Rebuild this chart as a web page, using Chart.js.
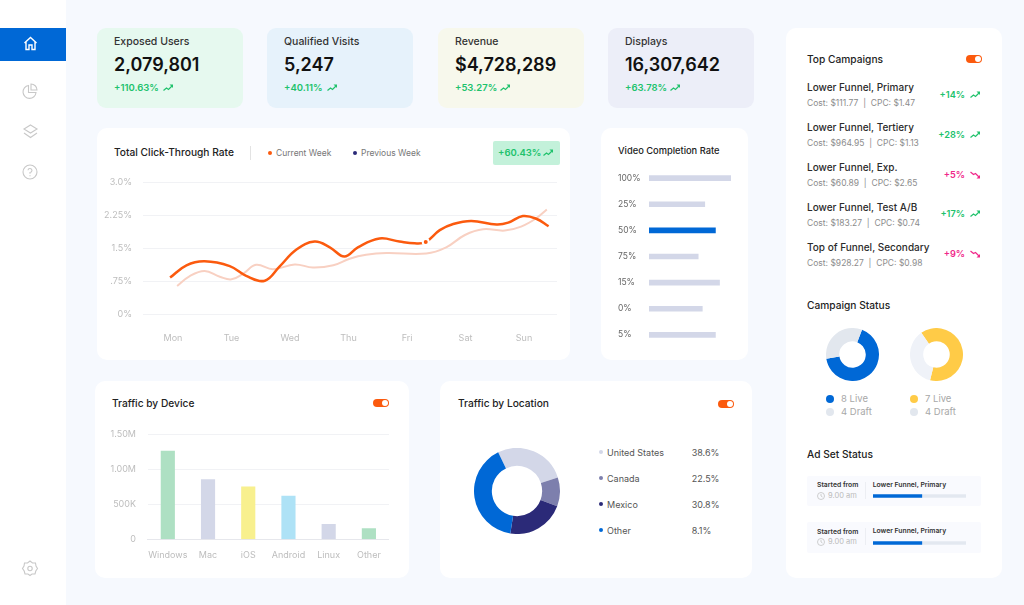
<!DOCTYPE html>
<html>
<head>
<meta charset="utf-8">
<title>Dashboard</title>
<script src="https://cdn.jsdelivr.net/npm/chart.js@4"></script>
<style>
html, body { margin: 0; padding: 0; background: #f6f9fe; overflow: hidden; }
#page { position: relative; width: 1024px; height: 605px; font-family: Inter, sans-serif; color: #222; }
.box { position: absolute; background: #fff; border-radius: 10px; }
.t { position: absolute; white-space: pre; transform: translateY(-50%); line-height: 1; }
.t.right { transform: translate(-100%, -50%); }
.kpi-title { font-size: 10.5px; font-weight: 500; color: #333; }
.kpi-value { font-size: 18px; font-weight: 600; color: #111; }
.kpi-change { font-size: 9.5px; font-weight: 600; color: #20c26c; }
.title { font-size: 10.2px; font-weight: 500; color: #222; }
.title-small { font-size: 9.3px; font-weight: 500; color: #222; }
.legend { font-size: 8.5px; color: #777; }
.name { font-size: 10px; font-weight: 500; color: #2b2b2b; }
.sub { font-size: 8.5px; color: #8c8c8c; }
.up { font-size: 9.2px; font-weight: 600; color: #20c26c; }
.down { font-size: 9.2px; font-weight: 600; color: #f0288a; }
.status { font-size: 9.5px; color: #a8a8a8; }
.loc { font-size: 9px; color: #555; }
.tiny { font-size: 6.8px; font-weight: 600; color: #333; }
.tiny-sub { font-size: 7.5px; color: #bbb; }
canvas { position: absolute; }
svg { position: absolute; overflow: visible; }
</style>
</head>
<body>
<div id="page"></div>
<script>
// Linjediagram: dag (0 = Mon) och värde i procent
const dayLabels = ['Mon', 'Tue', 'Wed', 'Thu', 'Fri', 'Sat', 'Sun'];
const rateTickLabels = ['0%', '.75%', '1.5%', '2.25%', '3.0%'];
const currentDays = [-0.05, 0.23, 0.54, 0.97, 1.25, 1.57, 1.82, 2.11, 2.42, 2.68, 2.93, 3.16, 3.53, 3.87, 4.13, 4.32, 4.56, 4.79, 5.10, 5.53, 5.73, 5.98, 6.21, 6.42];
const currentRates = [0.84, 1.12, 1.21, 1.10, 0.88, 0.77, 1.09, 1.48, 1.66, 1.53, 1.32, 1.53, 1.73, 1.66, 1.62, 1.65, 1.92, 2.06, 2.13, 2.05, 2.09, 2.24, 2.18, 2.01];
const previousDays = [0.07, 0.28, 0.54, 0.80, 1.00, 1.20, 1.42, 1.71, 2.08, 2.39, 2.74, 3.02, 3.30, 3.65, 4.33, 4.67, 4.99, 5.30, 5.67, 5.95, 6.21, 6.39];
const previousRates = [0.65, 0.87, 0.99, 0.86, 0.80, 0.93, 1.13, 1.03, 1.14, 1.07, 1.12, 1.27, 1.36, 1.40, 1.39, 1.53, 1.81, 1.94, 1.91, 2.00, 2.19, 2.39];
const markerDay = [4.32];
const markerRate = [1.65];

// Video Completion Rate
const videoLabels = ['100%', '25%', '50%', '75%', '15%', '0%', '5%'];
const videoValues = [100, 68, 81, 60, 86, 65, 81];

// Traffic by Device
const deviceLabels = ['Windows', 'Mac', 'iOS', 'Android', 'Linux', 'Other'];
const deviceValues = [1262000, 852000, 748000, 619000, 214000, 152000];
const deviceTickLabels = ['0', '500K', '1.00M', '1.50M'];

// Traffic by Location
const locationLabels = ['United States', 'Canada', 'Mexico', 'Other'];
const locationShares = ['38.6%', '22.5%', '30.8%', '8.1%'];
const locationSlices = [27.1, 10.9, 21.7, 40.3];

// Campaign Status
const statusOne = [8, 4];
const statusTwo = [7, 4];

// Ad Set Status
const adSetProgress = [52.5, 52.5];

// KPI-kort
const kpiTitles = ['Exposed Users', 'Qualified Visits', 'Revenue', 'Displays'];
const kpiValues = ['2,079,801', '5,247', '$4,728,289', '16,307,642'];
const kpiChanges = ['+110.63%', '+40.11%', '+53.27%', '+63.78%'];

// Top Campaigns
const campaignNames = ['Lower Funnel, Primary', 'Lower Funnel, Tertiery', 'Lower Funnel, Exp.', 'Lower Funnel, Test A/B', 'Top of Funnel, Secondary'];
const campaignCosts = ['$111.77', '$964.95', '$60.89', '$183.27', '$928.27'];
const campaignCpcs = ['$1.47', '$1.13', '$2.65', '$0.74', '$0.98'];
const campaignChanges = ['+14%', '+28%', '+5%', '+17%', '+9%'];
const campaignRising = [true, true, false, true, false];

const page = document.getElementById('page');
Chart.defaults.font.family = 'Inter, sans-serif';
Chart.defaults.animation = false;
Chart.defaults.responsive = false;
Chart.defaults.plugins.legend.display = false;
Chart.defaults.plugins.tooltip.enabled = false;

/** Lägger till en ruta på sidan. */
function addBox(x, y, w, h, color, radius) {
    const el = document.createElement('div');
    el.className = 'box';
    el.style.cssText = `left:${x}px;top:${y}px;width:${w}px;height:${h}px;background:${color};border-radius:${radius}px`;
    page.appendChild(el);
}

/** Lägger till text, y är textens mittlinje. */
function addText(x, y, text, cls) {
    const el = document.createElement('div');
    el.className = 't ' + cls;
    el.style.left = x + 'px';
    el.style.top = y + 'px';
    el.textContent = text;
    page.appendChild(el);
}

/** Lägger till en canvas och returnerar den. */
function addCanvas(x, y, w, h) {
    const el = document.createElement('canvas');
    el.width = w;
    el.height = h;
    el.style.cssText = `left:${x}px;top:${y}px;width:${w}px;height:${h}px`;
    page.appendChild(el);
    return el;
}

/** Lägger till en svg-ikon, viewBox 0 0 w h. */
function addIcon(x, y, w, h, inner) {
    const holder = document.createElement('div');
    holder.innerHTML = `<svg style="left:${x}px;top:${y}px" width="${w}" height="${h}" viewBox="0 0 ${w} ${h}" fill="none">${inner}</svg>`;
    page.appendChild(holder.firstChild);
}

function addDot(x, y, size, color) {
    addBox(x - size / 2, y - size / 2, size, size, color, size / 2);
}

function addTrend(x, y, rising) {
    const color = rising ? '#20c26c' : '#f0288a';
    const shape = rising
        ? `<path d="M0.5 6.5 L3.5 4 L5.5 5.5 L9 2" stroke="${color}" stroke-width="1.2"/><path d="M6.5 0.5 H10 V4 Z" fill="${color}"/>`
        : `<path d="M0.5 1 L3.5 3.5 L5.5 2.5 L9 6" stroke="${color}" stroke-width="1.2"/><path d="M6.5 7.5 H10 V4 Z" fill="${color}"/>`;
    addIcon(x, y - 4, 10, 8, shape);
}

function addToggle(x, y) {
    addBox(x, y - 4, 16, 8, '#fb5a0e', 4);
    addDot(x + 11.5, y, 6, '#fff');
}

/** Låser en axels storlek och tar bort marginalerna som etiketterna annars ger. */
function fixAxis(size) {
    return axis => {
        if (axis.isHorizontal()) {
            axis.height = size;
        } else {
            axis.width = size;
        }
        axis.paddingTop = 0;
        axis.paddingBottom = 0;
        axis.paddingLeft = 0;
        axis.paddingRight = 0;
    };
}

// Bakgrund: sidomeny och kort
addBox(0, 0, 66, 605, '#fff', 0);
addBox(0, 28, 66, 33, '#0068d6', 0);
addBox(97, 128, 473, 232, '#fff', 10);
addBox(601, 128, 147, 232, '#fff', 10);
addBox(95, 381, 314, 197, '#fff', 10);
addBox(440, 381, 312, 197, '#fff', 10);
addBox(786, 28, 216, 550, '#fff', 10);

// Sidomenyns ikoner
addIcon(23, 36, 15, 15, '<path d="M1.5 7 L7.5 1.5 L13.5 7 M3 6 V13.5 H6 V9 H9 V13.5 H12 V6" stroke="#fff" stroke-width="1.4"/>');
addIcon(22, 83, 16, 16, '<path d="M6.5 2.5 A6.5 6.5 0 1 0 14 9.5 H6.5 Z" stroke="#c8c8c8" stroke-width="1.1"/><path d="M9 1 A6 6 0 0 1 15 7 H9 Z" stroke="#c8c8c8" stroke-width="1.1"/>');
addIcon(23, 124, 15, 16, '<path d="M7.5 1 L14 5 L7.5 9 L1 5 Z M1 9 L7.5 13.5 L14 9" stroke="#c8c8c8" stroke-width="1.1"/>');
addIcon(22, 164, 16, 16, '<circle cx="8" cy="8" r="7" stroke="#c8c8c8" stroke-width="1.1"/><path d="M6 6.3 A2 2 0 1 1 8 8.5 V9.8 M8 11.2 V12.2" stroke="#c8c8c8" stroke-width="1.1"/>');
addIcon(22, 560, 16, 16, '<path d="M8 1 L10.5 3 H13.5 L14 6 L15.5 8.5 L13.8 11 L13 14 H10 L8 15.5 L6 14 H3 L2.2 11 L0.5 8.5 L2 6 L2.5 3 H5.5 Z" stroke="#c8c8c8" stroke-width="1.1"/><circle cx="8" cy="8.5" r="2.2" stroke="#c8c8c8" stroke-width="1.1"/>');

// KPI-kort
const kpiLefts = [97, 267, 438, 608];
const kpiColors = ['#e6f9ef', '#e6f2fb', '#f7f8ec', '#eceef8'];
kpiTitles.forEach((title, i) => {
    addBox(kpiLefts[i], 28, 146, 80, kpiColors[i], 9);
    addText(kpiLefts[i] + 17, 42, title, 'kpi-title');
    addText(kpiLefts[i] + 17, 64.5, kpiValues[i], 'kpi-value');
    addText(kpiLefts[i] + 17, 88, kpiChanges[i], 'kpi-change');
});
[163, 327, 500, 670].forEach(x => addTrend(x, 88, true));

// Linjediagrammets rubrik
addText(114, 152, 'Total Click-Through Rate', 'title');
addBox(249.5, 146, 1, 14, '#e3e3e3', 0);
addDot(270, 153, 4, '#fb5a0e');
addText(276, 153, 'Current Week', 'legend');
addDot(355, 153, 4, '#2b2a78');
addText(361, 153, 'Previous Week', 'legend');
addBox(493, 141, 67, 24, '#c3f1da', 2);
addText(498, 153, '+60.43%', 'kpi-change');
addTrend(543, 153, true);

new Chart(addCanvas(100, 170, 463, 185), {
    type: 'line',
    data: {
        datasets: [{
            data: markerDay.map((day, i) => ({ x: day, y: markerRate[i] })),
            showLine: false,
            pointRadius: 3,
            pointBorderWidth: 2,
            pointBackgroundColor: '#fb5a0e',
            pointBorderColor: '#fff'
        }, {
            data: currentDays.map((day, i) => ({ x: day, y: currentRates[i] })),
            borderColor: '#fb5a0e',
            borderWidth: 2.5,
            tension: 0.4,
            pointRadius: 0
        }, {
            data: previousDays.map((day, i) => ({ x: day, y: previousRates[i] })),
            borderColor: '#f8d0c2',
            borderWidth: 2,
            tension: 0.4,
            pointRadius: 0
        }]
    },
    options: {
        layout: { padding: { top: 12.7, right: 6 } },
        scales: {
            x: {
                type: 'linear',
                min: -0.513,
                max: 6.564,
                afterFit: fixAxis(40.5),
                grid: { display: false, drawTicks: false },
                border: { display: false },
                ticks: {
                    stepSize: 1,
                    includeBounds: false,
                    autoSkip: false,
                    maxRotation: 0,
                    padding: 18,
                    color: '#bdbdbd',
                    font: { size: 9 },
                    callback: value => dayLabels[value]
                }
            },
            y: {
                min: 0,
                max: 3,
                afterFit: fixAxis(43),
                grid: { color: '#f1f2f5', drawTicks: false },
                border: { display: false },
                ticks: {
                    stepSize: 0.75,
                    padding: 11,
                    color: '#bdbdbd',
                    font: { size: 9 },
                    callback: (value, index) => rateTickLabels[index]
                }
            }
        }
    }
});

// Video Completion Rate
addText(618, 151, 'Video Completion Rate', 'title-small');
new Chart(addCanvas(618, 165, 114, 183), {
    type: 'bar',
    data: {
        labels: videoLabels,
        datasets: [{
            data: videoValues,
            backgroundColor: videoLabels.map(label => label === '50%' ? '#0068d6' : '#d3d7e8'),
            barThickness: 5
        }]
    },
    options: {
        indexAxis: 'y',
        layout: { padding: { right: 1 } },
        scales: {
            x: { display: false, min: 0, max: 100 },
            y: {
                afterFit: fixAxis(31),
                grid: { display: false, drawTicks: false },
                border: { display: false },
                ticks: { crossAlign: 'far', padding: 0, color: '#666', font: { size: 8.5 } }
            }
        }
    }
});

// Traffic by Device
addText(112, 403, 'Traffic by Device', 'title');
addToggle(373, 403);
new Chart(addCanvas(100, 425, 289, 145), {
    type: 'bar',
    data: {
        labels: deviceLabels,
        datasets: [{
            data: deviceValues,
            backgroundColor: ['#aee0c3', '#d3d7e8', '#f8f08e', '#aee2f6', '#d3d7e8', '#aee0c3'],
            barThickness: 13.5
        }]
    },
    options: {
        layout: { padding: { top: 9.3 } },
        scales: {
            x: {
                afterFit: fixAxis(30.7),
                grid: { display: false, drawTicks: false },
                border: { color: '#e6e7ec' },
                ticks: { padding: 11, color: '#bdbdbd', font: { size: 9 }, autoSkip: false, maxRotation: 0 }
            },
            y: {
                min: 0,
                max: 1500000,
                afterFit: fixAxis(47.7),
                grid: { color: '#f1f2f5', drawTicks: false },
                border: { display: false },
                ticks: {
                    stepSize: 500000,
                    padding: 11.7,
                    color: '#bdbdbd',
                    font: { size: 9 },
                    callback: (value, index) => deviceTickLabels[index]
                }
            }
        }
    }
});

// Traffic by Location
addText(458, 403, 'Traffic by Location', 'title');
addToggle(718, 404);
new Chart(addCanvas(473.7, 448, 86, 86), {
    type: 'doughnut',
    data: {
        labels: locationLabels,
        datasets: [{
            data: locationSlices,
            backgroundColor: ['#d3d7e8', '#7d7fad', '#2b2a78', '#0068d6'],
            borderWidth: 0
        }]
    },
    options: { cutout: '58.5%', rotation: -26 }
});
const locationDots = ['#d3d7e8', '#7d7fad', '#2b2a78', '#0068d6'];
locationLabels.forEach((label, i) => {
    const y = 452.3 + i * 26;
    addDot(601.3, y, 4, locationDots[i]);
    addText(607, y, label, 'loc');
    addText(691.7, y, locationShares[i], 'loc');
});

// Top Campaigns
addText(807, 59, 'Top Campaigns', 'title');
addToggle(966, 59);
campaignNames.forEach((name, i) => {
    const y = 87.3 + i * 39.85;
    addText(807, y, name, 'name');
    addText(807, y + 16, `Cost: ${campaignCosts[i]}  |  CPC: ${campaignCpcs[i]}`, 'sub');
    addText(965, y + 7.5, campaignChanges[i], 'right ' + (campaignRising[i] ? 'up' : 'down'));
    addTrend(970, y + 7.5, campaignRising[i]);
});

// Campaign Status
addText(807, 304.7, 'Campaign Status', 'title');
new Chart(addCanvas(826, 328, 53, 53), {
    type: 'doughnut',
    data: { labels: ['Live', 'Draft'], datasets: [{ data: statusOne, backgroundColor: ['#0068d6', '#e2e7ee'], borderWidth: 0 }] },
    options: { cutout: '50%', rotation: 21 }
});
new Chart(addCanvas(909.5, 328, 53, 53), {
    type: 'doughnut',
    data: { labels: ['Live', 'Draft'], datasets: [{ data: statusTwo, backgroundColor: ['#ffcb47', '#eff2f8'], borderWidth: 0 }] },
    options: { cutout: '50%', rotation: -35 }
});
[[830, 841, statusOne, '#0068d6'], [914, 925, statusTwo, '#ffcb47']].forEach(([dotX, textX, counts, color]) => {
    addDot(dotX, 399, 8, color);
    addText(textX, 399, counts[0] + ' Live', 'status');
    addDot(dotX, 411.7, 8, '#e2e7ee');
    addText(textX, 411.7, counts[1] + ' Draft', 'status');
});

// Ad Set Status
addText(807, 453.7, 'Ad Set Status', 'title');
adSetProgress.forEach((progress, i) => {
    const top = 475.7 + i * 46.5;
    addBox(807, top, 174, 30.5, '#f9fafe', 2);
    addText(817, top + 9.3, 'Started from', 'tiny');
    addIcon(817, top + 16, 8, 8, '<circle cx="4" cy="4" r="3.5" stroke="#bbb" stroke-width="0.7"/><path d="M4 2 V4 L5.5 5" stroke="#bbb" stroke-width="0.7"/>');
    addText(828, top + 20, '9.00 am', 'tiny-sub');
    addBox(865, top + 6, 1, 17, '#eceef3', 0);
    addText(872.7, top + 9, 'Lower Funnel, Primary', 'tiny');
    new Chart(addCanvas(872.7, top + 18.6, 93, 4), {
        type: 'bar',
        data: {
            labels: ['Progress'],
            datasets: [
                { data: [progress], backgroundColor: '#0068d6', barThickness: 2.6, borderRadius: 1.3, borderSkipped: false },
                { data: [100 - progress], backgroundColor: '#e3e8f0', barThickness: 2.6 }
            ]
        },
        options: {
            indexAxis: 'y',
            scales: {
                x: { display: false, stacked: true, min: 0, max: 100 },
                y: { display: false, stacked: true }
            }
        }
    });
});
</script>
</body>
</html>
